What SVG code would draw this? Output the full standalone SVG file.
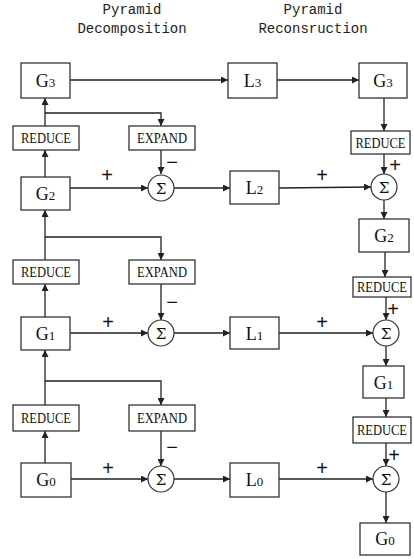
<svg xmlns="http://www.w3.org/2000/svg" width="414" height="559" viewBox="0 0 414 559">
<defs>
<marker id="ah" viewBox="0 0 10 10" refX="10" refY="5" markerWidth="8" markerHeight="7" markerUnits="userSpaceOnUse" orient="auto">
<path d="M0,0 L10,5 L0,10 z" fill="#222"/>
</marker>
<style>
.box{fill:#fff;stroke:#333;stroke-width:1.3}
.sum{fill:#fff;stroke:#333;stroke-width:1.2}
.ln{fill:none;stroke:#222;stroke-width:1.3}
.ar{fill:none;stroke:#222;stroke-width:1.3;marker-end:url(#ah)}
.g{font-family:"Liberation Serif",serif;font-size:18px;fill:#111;text-anchor:middle}
.sub{font-size:13px}
.op{font-family:"Liberation Serif",serif;font-size:14.5px;fill:#111;text-anchor:middle}
.sg{font-family:"DejaVu Serif",serif;font-size:15px;fill:#111;text-anchor:middle}
.ti{font-family:"Liberation Mono",monospace;font-size:14px;fill:#222;text-anchor:middle}
.pm{font-family:"Liberation Sans",sans-serif;font-size:20px;fill:#111;text-anchor:middle}
</style>
</defs>
<rect width="414" height="559" fill="#fff"/>
<g id="titles">
<text class="ti" x="132" y="14">Pyramid</text>
<text class="ti" x="132" y="33">Decomposition</text>
<text class="ti" x="313" y="14">Pyramid</text>
<text class="ti" x="313" y="33">Reconsruction</text>
</g>
<g id="connectors">
<line class="ar" x1="70" y1="80" x2="228" y2="80"/>
<line class="ar" x1="277" y1="80" x2="359" y2="80"/>
<line class="ar" x1="45" y1="126" x2="45" y2="98"/>
<polyline class="ar" points="45,113 161,113 161,126"/>
<line class="ar" x1="45" y1="177" x2="45" y2="150"/>
<line class="ar" x1="161" y1="150" x2="161" y2="174"/>
<line class="ar" x1="70" y1="188" x2="148" y2="188"/>
<line class="ar" x1="174" y1="188" x2="230" y2="188"/>
<line class="ar" x1="279" y1="188" x2="371" y2="187"/>
<line class="ar" x1="45" y1="260" x2="45" y2="210"/>
<polyline class="ar" points="45,237 161,237 161,260"/>
<line class="ar" x1="45" y1="317" x2="45" y2="284"/>
<line class="ar" x1="161" y1="284" x2="161" y2="320"/>
<line class="ar" x1="70" y1="333" x2="148" y2="333"/>
<line class="ar" x1="174" y1="333" x2="230" y2="333"/>
<line class="ar" x1="279" y1="333" x2="373" y2="333"/>
<line class="ar" x1="45" y1="405" x2="45" y2="350"/>
<polyline class="ar" points="45,381 161,381 161,405"/>
<line class="ar" x1="45" y1="463" x2="45" y2="431"/>
<line class="ar" x1="161" y1="431" x2="161" y2="466"/>
<line class="ar" x1="71" y1="479" x2="148" y2="479"/>
<line class="ar" x1="174" y1="479" x2="230" y2="479"/>
<line class="ar" x1="279" y1="479" x2="373" y2="479"/>
<line class="ar" x1="384" y1="98" x2="384" y2="131"/>
<line class="ar" x1="384" y1="154" x2="384" y2="174"/>
<line class="ar" x1="384" y1="200" x2="384" y2="219"/>
<line class="ar" x1="385" y1="252" x2="385" y2="277"/>
<line class="ar" x1="386" y1="297" x2="386" y2="320"/>
<line class="ar" x1="386" y1="346" x2="386" y2="366"/>
<line class="ar" x1="386" y1="398" x2="386" y2="417"/>
<line class="ar" x1="386" y1="443" x2="386" y2="466"/>
<line class="ar" x1="386" y1="492" x2="386" y2="523"/>
</g>
<g id="signs">
<text class="pm" x="107" y="182">+</text>
<text class="pm" x="322" y="182">+</text>
<text class="pm" x="172" y="169">−</text>
<text class="pm" x="395" y="172">+</text>
<text class="pm" x="108" y="329">+</text>
<text class="pm" x="322" y="329">+</text>
<text class="pm" x="172" y="309">−</text>
<text class="pm" x="393" y="316">+</text>
<text class="pm" x="108" y="475">+</text>
<text class="pm" x="322" y="475">+</text>
<text class="pm" x="172" y="454">−</text>
<text class="pm" x="394" y="462">+</text>
</g>
<g id="G3L"><rect class="box" x="21" y="63" width="49" height="35"/><text class="g" x="45.5" y="87">G<tspan class="sub">3</tspan></text></g>
<g id="L3"><rect class="box" x="228" y="63" width="49" height="35"/><text class="g" x="252.5" y="87">L<tspan class="sub">3</tspan></text></g>
<g id="G3R"><rect class="box" x="359" y="63" width="48" height="35"/><text class="g" x="383" y="87">G<tspan class="sub">3</tspan></text></g>
<g id="RED3L"><rect class="box" x="13" y="126" width="66" height="24"/><text class="op" x="46" y="143" textLength="50" lengthAdjust="spacingAndGlyphs">REDUCE</text></g>
<g id="EXP3"><rect class="box" x="129" y="126" width="66" height="24"/><text class="op" x="162" y="143" textLength="50" lengthAdjust="spacingAndGlyphs">EXPAND</text></g>
<g id="RED3R"><rect class="box" x="351" y="131" width="59" height="23"/><text class="op" x="380.5" y="147.5" textLength="50" lengthAdjust="spacingAndGlyphs">REDUCE</text></g>
<g id="G2L"><rect class="box" x="21" y="177" width="49" height="33"/><text class="g" x="45.5" y="200">G<tspan class="sub">2</tspan></text></g>
<g id="SUM2L"><circle class="sum" cx="161" cy="188" r="13"/><text class="sg" x="161" y="193.5">Σ</text></g>
<g id="L2"><rect class="box" x="230" y="171" width="49" height="33"/><text class="g" x="254.5" y="194">L<tspan class="sub">2</tspan></text></g>
<g id="SUM2R"><circle class="sum" cx="384" cy="187" r="13"/><text class="sg" x="384" y="192.5">Σ</text></g>
<g id="G2R"><rect class="box" x="359" y="219" width="50" height="33"/><text class="g" x="384" y="242">G<tspan class="sub">2</tspan></text></g>
<g id="RED2L"><rect class="box" x="13" y="260" width="66" height="24"/><text class="op" x="46" y="277" textLength="50" lengthAdjust="spacingAndGlyphs">REDUCE</text></g>
<g id="EXP2"><rect class="box" x="129" y="260" width="66" height="24"/><text class="op" x="162" y="277" textLength="50" lengthAdjust="spacingAndGlyphs">EXPAND</text></g>
<g id="RED2R"><rect class="box" x="353" y="277" width="58" height="20"/><text class="op" x="382" y="292" textLength="50" lengthAdjust="spacingAndGlyphs">REDUCE</text></g>
<g id="G1L"><rect class="box" x="21" y="317" width="49" height="33"/><text class="g" x="45.5" y="340">G<tspan class="sub">1</tspan></text></g>
<g id="SUM1L"><circle class="sum" cx="161" cy="333" r="13"/><text class="sg" x="161" y="338.5">Σ</text></g>
<g id="L1"><rect class="box" x="230" y="317" width="49" height="32"/><text class="g" x="254.5" y="340">L<tspan class="sub">1</tspan></text></g>
<g id="SUM1R"><circle class="sum" cx="386" cy="333" r="13"/><text class="sg" x="386" y="338.5">Σ</text></g>
<g id="G1R"><rect class="box" x="363" y="366" width="41" height="32"/><text class="g" x="383.5" y="389">G<tspan class="sub">1</tspan></text></g>
<g id="RED1L"><rect class="box" x="13" y="405" width="66" height="26"/><text class="op" x="46" y="423" textLength="50" lengthAdjust="spacingAndGlyphs">REDUCE</text></g>
<g id="EXP1"><rect class="box" x="129" y="405" width="66" height="26"/><text class="op" x="162" y="423" textLength="50" lengthAdjust="spacingAndGlyphs">EXPAND</text></g>
<g id="RED1R"><rect class="box" x="353" y="417" width="58" height="26"/><text class="op" x="382" y="435" textLength="50" lengthAdjust="spacingAndGlyphs">REDUCE</text></g>
<g id="G0L"><rect class="box" x="21" y="463" width="50" height="34"/><text class="g" x="46" y="486">G<tspan class="sub">0</tspan></text></g>
<g id="SUM0L"><circle class="sum" cx="161" cy="479" r="13"/><text class="sg" x="161" y="484.5">Σ</text></g>
<g id="L0"><rect class="box" x="230" y="463" width="49" height="34"/><text class="g" x="254.5" y="486">L<tspan class="sub">0</tspan></text></g>
<g id="SUM0R"><circle class="sum" cx="386" cy="479" r="13"/><text class="sg" x="386" y="484.5">Σ</text></g>
<g id="G0R"><rect class="box" x="360" y="523" width="50" height="32"/><text class="g" x="385" y="545">G<tspan class="sub">0</tspan></text></g>
</svg>
